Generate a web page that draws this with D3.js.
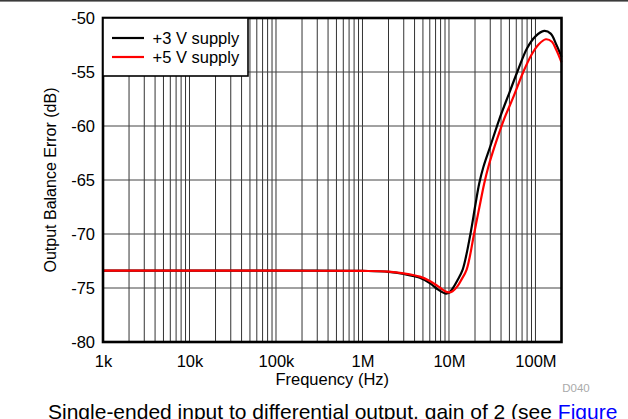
<!DOCTYPE html>
<html>
<head>
<meta charset="utf-8">
<script src="https://cdn.jsdelivr.net/npm/d3@7/dist/d3.min.js"></script>
<style>
  html, body { margin: 0; padding: 0; background: #fff; }
  svg { display: block; font-family: "Liberation Sans", Arial, sans-serif; }
</style>
</head>
<body>
<svg id="chart" width="628" height="419"></svg>
<script>
// Output balance error vs frequency, two supply voltages
const freq3V = [1e3, 1e4, 1e5, 1e6, 2e6, 3e6, 4.6e6, 6e6, 7.5e6, 9e6, 1e7, 1.1e7, 1.25e7, 1.44e7,
                1.78e7, 2e7, 2.24e7, 2.5e7, 3e7, 3.81e7, 5e7, 6.16e7, 8e7, 1e8, 1.26e8, 1.5e8, 1.75e8, 2e8];
const err3V  = [-73.4, -73.4, -73.4, -73.42, -73.5, -73.7, -74.05, -74.55, -75.15, -75.5, -75.45, -75.05, -74.3, -73.3,
                -69.9, -67.5, -65.3, -63.8, -61.9, -59.4, -56.9, -55.0, -52.8, -51.7, -51.2, -51.45, -52.5, -53.6];

const freq5V = [1e3, 1e4, 1e5, 1e6, 2e6, 3e6, 4.6e6, 6e6, 7.5e6, 9e6, 1e7, 1.1e7, 1.25e7, 1.4e7,
                1.6e7, 1.96e7, 2.25e7, 2.56e7, 2.85e7, 3.4e7, 4.32e7, 5.5e7, 7.23e7, 9e7, 1.1e8, 1.32e8, 1.55e8, 1.75e8, 2e8];
const err5V  = [-73.4, -73.4, -73.4, -73.42, -73.48, -73.65, -73.95, -74.35, -74.85, -75.3, -75.4, -75.3, -74.85, -74.2,
                -73.3, -69.9, -67.5, -65.3, -63.8, -61.8, -59.4, -57.4, -55.0, -53.4, -52.4, -51.97, -52.2, -53.0, -54.1];

const seriesNames = ["+3 V supply", "+5 V supply"];
const seriesColors = ["#000000", "#ff0000"];

const xTickValues = [1e3, 1e4, 1e5, 1e6, 1e7, 1e8];
const xTickLabels = ["1k", "10k", "100k", "1M", "10M", "100M"];
const yTickValues = [-50, -55, -60, -65, -70, -75, -80];

const svg = d3.select("#chart");
const W = 628, H = 419;
const margin = { left: 103, top: 18, right: W - 561.5, bottom: H - 342 };
const x0 = margin.left, x1 = W - margin.right, y0 = margin.top, y1 = H - margin.bottom;

const x = d3.scaleLog().domain([1e3, 2e8]).range([x0, x1]);
const y = d3.scaleLinear().domain([-80, -50]).range([y1, y0]);

// top rule
svg.append("rect").attr("x", 0).attr("y", 0).attr("width", W).attr("height", 1.6).attr("fill", "#3a3a3a");

// grid: vertical lines at every 1..9 multiple of each decade
const gridX = [];
for (let d = 1e3; d <= 1e8; d *= 10) {
  for (let m = 1; m <= 9; m++) {
    const v = d * m;
    if (v > 1e3 && v < 2e8) gridX.push(v);
  }
}
const grid = svg.append("g");
grid.selectAll("line.vx").data(gridX).join("line")
  .attr("x1", d => x(d)).attr("x2", d => x(d))
  .attr("y1", y0).attr("y2", y1)
  .attr("stroke", "#333").attr("stroke-width", 1);
grid.selectAll("line.hy").data(yTickValues.filter(v => v > -80 && v < -50)).join("line")
  .attr("x1", x0).attr("x2", x1)
  .attr("y1", d => y(d)).attr("y2", d => y(d))
  .attr("stroke", "#444").attr("stroke-width", 1);

// curves
const line = d3.line().curve(d3.curveCatmullRom.alpha(0.5));
const series = [
  { f: freq3V, v: err3V, color: seriesColors[0] },
  { f: freq5V, v: err5V, color: seriesColors[1] }
];
series.forEach(s => {
  svg.append("path")
    .attr("d", line(s.f.map((f, i) => [x(f), y(s.v[i])])))
    .attr("fill", "none").attr("stroke", s.color).attr("stroke-width", 2.2)
    .attr("stroke-linejoin", "round");
});

// frame
svg.append("rect").attr("x", x0).attr("y", y0).attr("width", x1 - x0).attr("height", y1 - y0)
  .attr("fill", "none").attr("stroke", "#000").attr("stroke-width", 2.6);

// axes (labels only)
const yAxis = d3.axisLeft(y).tickValues(yTickValues).tickFormat(d => String(d)).tickSize(0).tickPadding(8);
const gy = svg.append("g").attr("transform", `translate(${x0},0)`).call(yAxis);
gy.select(".domain").remove();
gy.selectAll("text").attr("font-size", 16.5).attr("fill", "#000")
  .attr("font-family", "Liberation Sans, Arial, sans-serif");

const xAxis = d3.axisBottom(x).tickValues(xTickValues).tickFormat((d, i) => xTickLabels[i]).tickSize(0).tickPadding(13);
const gx = svg.append("g").attr("transform", `translate(0,${y1})`).call(xAxis);
gx.select(".domain").remove();
gx.selectAll("text").attr("font-size", 16.5).attr("fill", "#000")
  .attr("font-family", "Liberation Sans, Arial, sans-serif");

// axis titles
svg.append("text").attr("x", (x0 + x1) / 2).attr("y", 385).attr("text-anchor", "middle")
  .attr("font-size", 16.5).text("Frequency (Hz)");
svg.append("text").attr("transform", `translate(56,${(y0 + y1) / 2}) rotate(-90)`)
  .attr("text-anchor", "middle").attr("font-size", 16).text("Output Balance Error (dB)");

// legend
const lg = svg.append("g");
lg.append("rect").attr("x", x0).attr("y", y0).attr("width", 248 - x0).attr("height", 76 - y0)
  .attr("fill", "#fff").attr("stroke", "#000").attr("stroke-width", 1.6);
seriesNames.forEach((name, i) => {
  const ly = 38 + i * 19;
  lg.append("line").attr("x1", 112).attr("x2", 144).attr("y1", ly).attr("y2", ly)
    .attr("stroke", seriesColors[i]).attr("stroke-width", 2.2);
  lg.append("text").attr("x", 152.5).attr("y", ly).attr("dy", "0.35em")
    .attr("font-size", 16.5).text(name);
});

// figure id
svg.append("text").attr("x", 576).attr("y", 392).attr("text-anchor", "middle")
  .attr("font-size", 11.5).attr("fill", "#aaa").text("D040");

// caption
const cap = svg.append("text").attr("x", 48).attr("y", 419).attr("font-size", 21);
cap.append("tspan").attr("fill", "#000").text("Single-ended input to differential output, gain of 2 (see ");
cap.append("tspan").attr("fill", "#0000ff").text("Figure");
</script>
</body>
</html>
